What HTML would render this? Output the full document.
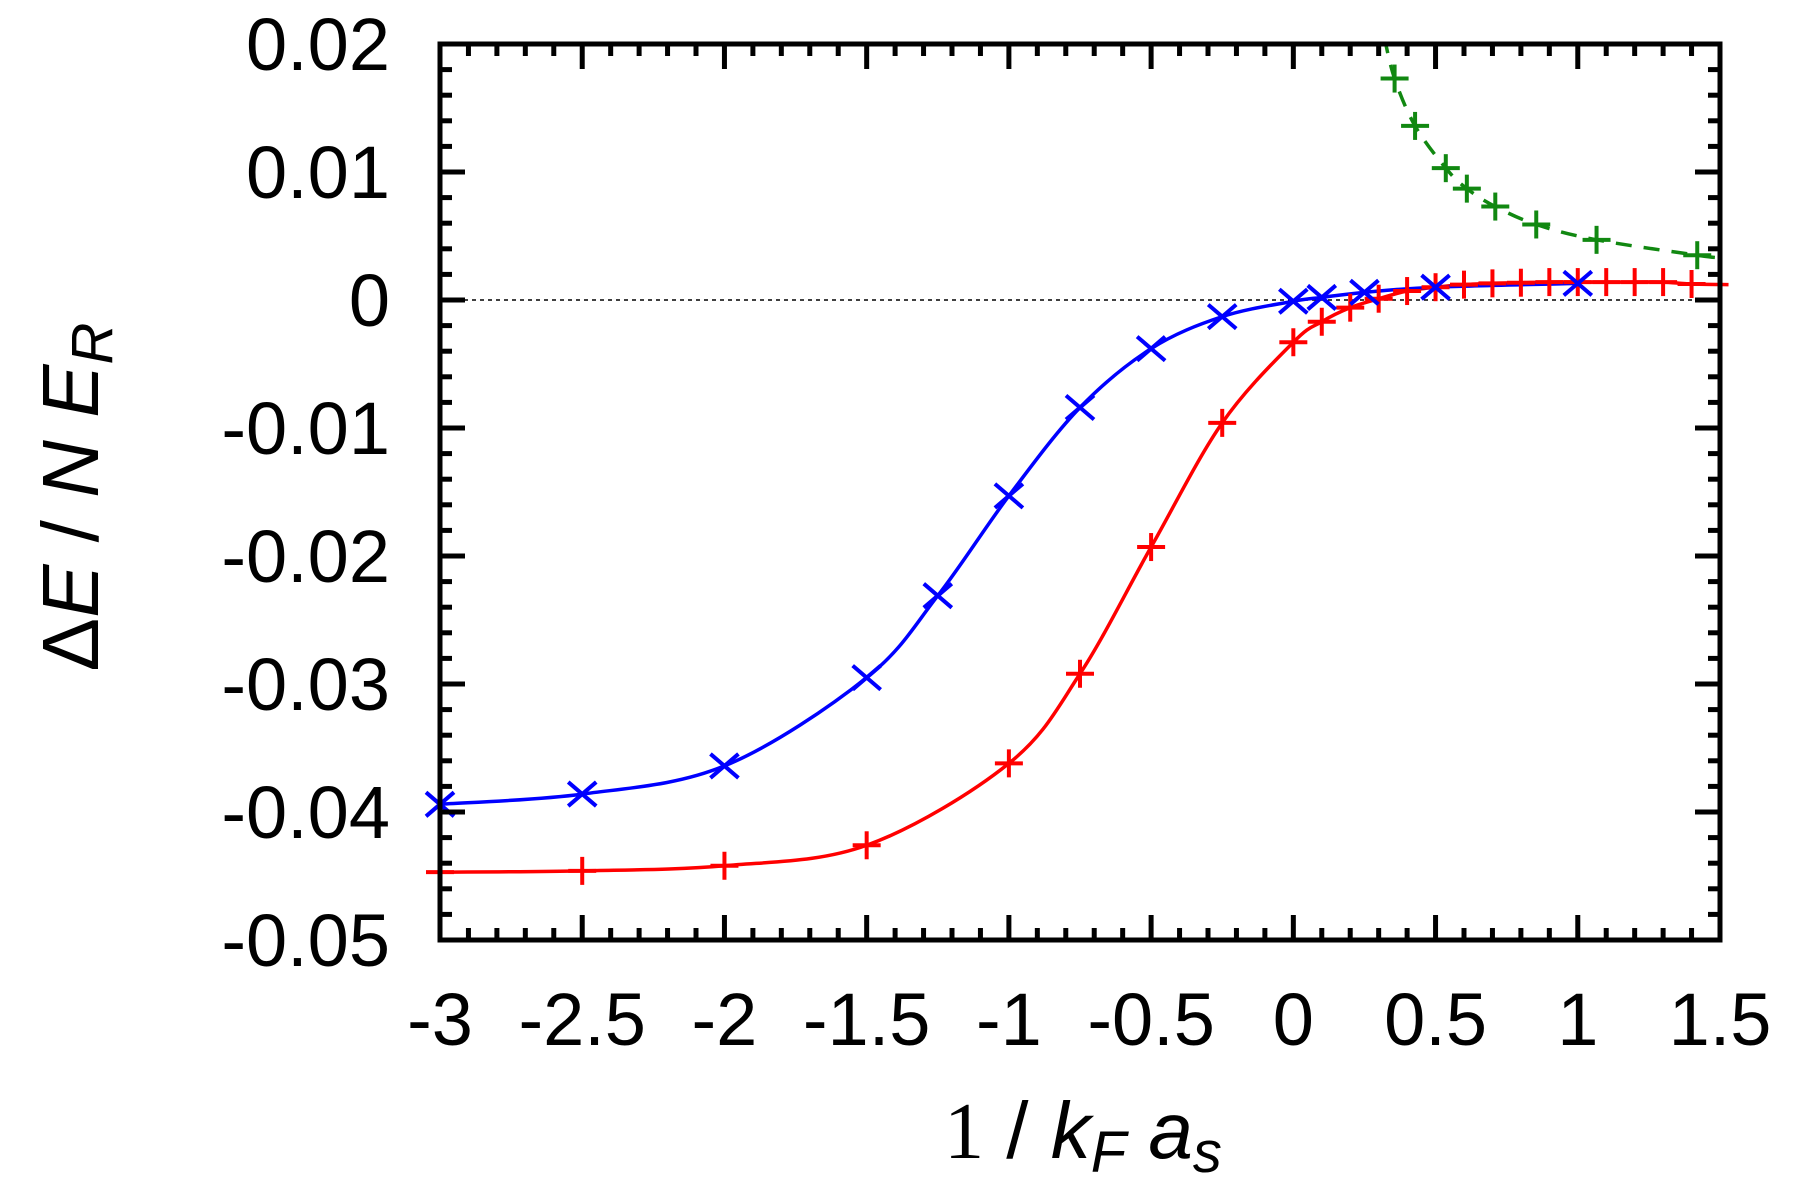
<!DOCTYPE html>
<html><head><meta charset="utf-8"><style>
body{margin:0;background:#fff}
svg{display:block}
text{font-family:"Liberation Sans",sans-serif;fill:#000}
</style></head><body>
<svg id="chart" width="1797" height="1201" viewBox="0 0 1797 1201" xmlns="http://www.w3.org/2000/svg">
<g id="grid"></g>
<g id="series"></g>
<g id="axes"></g>
<text transform="translate(98,497) rotate(-90)" text-anchor="middle" font-size="80">Δ<tspan font-style="italic">E</tspan> / <tspan font-style="italic">N E</tspan><tspan font-style="italic" font-size="58" dy="14">R</tspan></text>
<text x="1083" y="1158" text-anchor="middle" font-size="80"><tspan font-family="Liberation Serif">1</tspan> / <tspan font-style="italic">k</tspan><tspan font-style="italic" font-size="58" dy="14">F</tspan><tspan font-style="italic" dy="-14"> a</tspan><tspan font-style="italic" font-size="58" dy="14">s</tspan></text>
</svg>
<script>
const xTicks=[-3,-2.5,-2,-1.5,-1,-0.5,0,0.5,1,1.5];
const xTickLabels=["-3","-2.5","-2","-1.5","-1","-0.5","0","0.5","1","1.5"];
const yTicks=[0.02,0.01,0,-0.01,-0.02,-0.03,-0.04,-0.05];
const yTickLabels=["0.02","0.01","0","-0.01","-0.02","-0.03","-0.04","-0.05"];
const blueX=[-3,-2.5,-2,-1.5,-1.25,-1,-0.75,-0.5,-0.25,0,0.1,0.25,0.5,1.0];
const blueY=[-0.0394,-0.0386,-0.0364,-0.0295,-0.0231,-0.0153,-0.0084,-0.0038,-0.0013,-0.0001,0.0002,0.0006,0.0010,0.0013];
const redX=[-3,-2.5,-2,-1.5,-1,-0.75,-0.5,-0.25,0,0.1,0.2,0.3,0.4,0.5,0.6,0.7,0.8,0.9,1.0,1.1,1.2,1.3,1.4];
const redY=[-0.0447,-0.0446,-0.0442,-0.0426,-0.0362,-0.0292,-0.0193,-0.0096,-0.0033,-0.0017,-0.0006,0.0001,0.0007,0.0010,0.0012,0.0013,0.00135,0.0014,0.0014,0.0014,0.0014,0.0014,0.00125];
const greenX=[0.356,0.428,0.536,0.61,0.71,0.854,1.066,1.42];
const greenY=[0.0173,0.0136,0.0103,0.0087,0.0073,0.0059,0.0047,0.0035];
const L=440,R=1720,T=44,B=940,X0=-3,X1=1.5,Y0=-0.05,Y1=0.02;
const sx=v=>L+(v-X0)/(X1-X0)*(R-L);
const sy=v=>B-(v-Y0)/(Y1-Y0)*(B-T);
const NS="http://www.w3.org/2000/svg";
function mk(tag,attrs,parent){const e=document.createElementNS(NS,tag);for(const k in attrs)e.setAttribute(k,attrs[k]);parent.appendChild(e);return e;}
const axes=document.getElementById('axes'),series=document.getElementById('series'),grid=document.getElementById('grid');
const z=mk('line',{x1:sx(-3),x2:sx(1.42),y1:sy(0),y2:sy(0),stroke:'#000','stroke-width':1.5,'stroke-dasharray':'4,4'},grid);


for(let i=0;i<=45;i++){const v=X0+i*0.1;const x=sx(v);const major=i%5===0;const len=major?25:12;
 mk('line',{x1:x,x2:x,y1:B,y2:B-len,stroke:'#000','stroke-width':5},axes);
 mk('line',{x1:x,x2:x,y1:T,y2:T+len,stroke:'#000','stroke-width':5},axes);}
for(let i=0;i<=35;i++){const v=Y0+i*0.002;const y=sy(v);const major=i%5===0;const len=major?25:12;
 mk('line',{x1:L,x2:L+len,y1:y,y2:y,stroke:'#000','stroke-width':5},axes);
 mk('line',{x1:R,x2:R-len,y1:y,y2:y,stroke:'#000','stroke-width':5},axes);}
const fr=mk('rect',{x:L,y:T,width:R-L,height:B-T,fill:'none',stroke:'#000','stroke-width':5},axes);


xTicks.forEach((v,i)=>{const t=mk('text',{x:sx(v),y:1045,'text-anchor':'middle','font-size':74},axes);t.textContent=xTickLabels[i];
 
 });
yTicks.forEach((v,i)=>{const t=mk('text',{x:390,y:sy(v)+26,'text-anchor':'end','font-size':74},axes);t.textContent=yTickLabels[i];
 
 });
function smooth(xs,ys){const p=xs.map((x,i)=>[sx(x),sy(ys[i])]);let d='M'+p[0][0]+','+p[0][1];
 for(let i=0;i<p.length-1;i++){const p0=p[Math.max(0,i-1)],p1=p[i],p2=p[i+1],p3=p[Math.min(p.length-1,i+2)];
  const c1=[p1[0]+(p2[0]-p0[0])/6,p1[1]+(p2[1]-p0[1])/6],c2=[p2[0]-(p3[0]-p1[0])/6,p2[1]-(p3[1]-p1[1])/6];
  d+=` C${c1[0]},${c1[1]} ${c2[0]},${c2[1]} ${p2[0]},${p2[1]}`;}return d;}
const clip=mk('clipPath',{id:'pc'},series);mk('rect',{x:L-20,y:T,width:R-L+60,height:B-T},clip);
const gx=[0.32].concat(greenX,[1.5]),gy=[0.0205].concat(greenY,[0.0033]);
const gl=mk('path',{d:smooth(gx,gy),fill:'none',stroke:'#118811','stroke-width':3.5,'stroke-dasharray':'16,12','clip-path':'url(#pc)'},series);


const rx=redX.concat([1.53]),ry=redY.concat([0.0012]);
const rl=mk('path',{d:smooth(rx,ry),fill:'none',stroke:'#ff0000','stroke-width':3.5},series);


const bl=mk('path',{d:smooth(blueX,blueY),fill:'none',stroke:'#0000ff','stroke-width':3.5},series);


function plus(x,y,c,name){const g=mk('g',{stroke:c,'stroke-width':4},series);
 
 
 mk('line',{x1:x-14,x2:x+14,y1:y,y2:y},g);mk('line',{x1:x,x2:x,y1:y-14,y2:y+14},g);}
function cross(x,y,c,name){const g=mk('g',{stroke:c,'stroke-width':4},series);
 
 
 mk('line',{x1:x-14,x2:x+14,y1:y-12,y2:y+12},g);mk('line',{x1:x-14,x2:x+14,y1:y+12,y2:y-12},g);}
greenX.forEach((v,i)=>plus(sx(v),sy(greenY[i]),'#118811','green-point'));
redX.forEach((v,i)=>plus(sx(v),sy(redY[i]),'#ff0000','red-point'));
blueX.forEach((v,i)=>cross(sx(v),sy(blueY[i]),'#0000ff','blue-point'));
</script>
</body></html>
